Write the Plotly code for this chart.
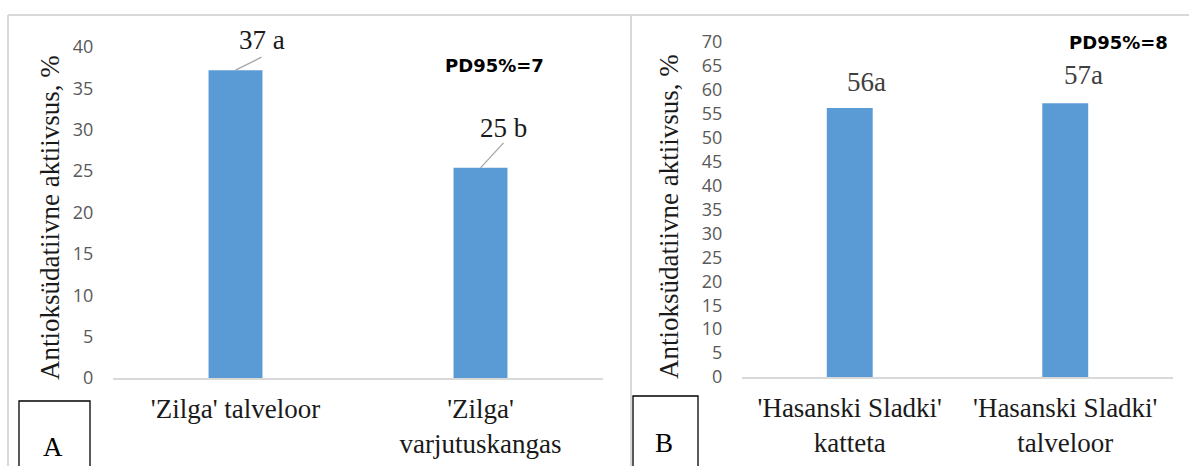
import plotly.graph_objects as go

# --- data -------------------------------------------------------------
cats_a = ["'Zilga' talveloor", "'Zilga'<br>varjutuskangas"]
vals_a = [37.2, 25.4]
labels_a = ["37 a", "25 b"]

cats_b = ["'Hasanski Sladki'<br>katteta", "'Hasanski Sladki'<br>talveloor"]
vals_b = [56.2, 57.2]
labels_b = ["56a", "57a"]

pd_a = "PD95%=7"
pd_b = "PD95%=8"
y_title = "Antioksüdatiivne aktiivsus, %"

# --- styling ----------------------------------------------------------
W, H = 1189, 466
BAR = "#5B9BD5"
SERIF = "Liberation Serif"
SANS = "Open Sans"
GRID = "#d9d9d9"


def px(x):
    return x / W


def py(y):
    return (H - y) / H


fig = go.Figure()
fig.add_trace(go.Bar(x=cats_a, y=vals_a, marker=dict(color=BAR, line=dict(width=0)),
                     width=0.22, xaxis="x", yaxis="y", showlegend=False, hoverinfo="skip"))
fig.add_trace(go.Bar(x=cats_b, y=vals_b, marker=dict(color=BAR, line=dict(width=0)),
                     width=0.213, xaxis="x2", yaxis="y2", showlegend=False, hoverinfo="skip"))

xcommon = dict(showline=True, linecolor=GRID, linewidth=1.5, showgrid=False, zeroline=False,
               ticks="outside", ticklen=6, tickcolor="rgba(0,0,0,0)", automargin=False,
               tickfont=dict(family=SERIF, size=27, color="#1a1a1a"), fixedrange=True)
ycommon = dict(showline=False, showgrid=False, zeroline=False, dtick=5, automargin=False,
               ticks="outside", ticklen=15, tickcolor="rgba(0,0,0,0)",
               tickfont=dict(family=SANS, size=18, color="#595959"), fixedrange=True)

fig.update_layout(
    width=W, height=H, margin=dict(l=0, r=0, t=0, b=0, autoexpand=False),
    paper_bgcolor="white", plot_bgcolor="white",
    xaxis=dict(domain=[px(113), px(603)], anchor="y", **xcommon),
    yaxis=dict(domain=[py(378), py(47)], range=[0, 40], anchor="x", **ycommon),
    xaxis2=dict(domain=[px(742), px(1173)], anchor="y2", **xcommon),
    yaxis2=dict(domain=[py(377), py(42)], range=[0, 70], anchor="x2", **ycommon),
)

annotations = []
shapes = []
centered = dict(xanchor="center", yanchor="middle", showarrow=False)

# value labels with short leader lines (panel A)
leader_a = [(26, 13, 30), (23, 25, 40)]
for c, v, t, (dx, dy, ty) in zip(cats_a, vals_a, labels_a, leader_a):
    shapes.append(dict(type="line", xref="x", yref="y", xsizemode="pixel", ysizemode="pixel",
                       xanchor=c, yanchor=v, x0=0, y0=0, x1=dx, y1=dy,
                       line=dict(color="#a6a6a6", width=1.3)))
    annotations.append(dict(x=c, y=v, xref="x", yref="y", text=t, xshift=dx, yshift=ty,
                            font=dict(family=SERIF, size=27, color="#1a1a1a"), **centered))

# value labels (panel B)
offs_b = [(17, 26), (18, 28)]
for c, v, t, (dx, ty) in zip(cats_b, vals_b, labels_b, offs_b):
    annotations.append(dict(x=c, y=v, xref="x2", yref="y2", text=t, xshift=dx, yshift=ty,
                            font=dict(family=SERIF, size=27, color="#404040"), **centered))

# LSD notes
annotations.append(dict(x=px(494), y=py(65), xref="paper", yref="paper", text="<b>%s</b>" % pd_a,
                        font=dict(family="DejaVu Sans", size=18, color="#000000"), **centered))
annotations.append(dict(x=px(1118), y=py(42), xref="paper", yref="paper", text="<b>%s</b>" % pd_b,
                        font=dict(family="DejaVu Sans", size=18, color="#000000"), **centered))

# rotated axis titles
for xx, yy in [(50, 218), (669, 217)]:
    annotations.append(dict(x=px(xx), y=py(yy), xref="paper", yref="paper", text=y_title,
                            textangle=-90, font=dict(family=SERIF, size=27, color="#1a1a1a"),
                            **centered))

# panel letters in boxes
for letter, x0, x1, y0, tx, ty in [("A", 19, 90, 401, 53, 447), ("B", 633, 698, 396, 664, 443)]:
    shapes.append(dict(type="rect", xref="paper", yref="paper", x0=px(x0), x1=px(x1),
                       y0=py(y0), y1=py(475), line=dict(color="#000000", width=1.3),
                       fillcolor="rgba(0,0,0,0)"))
    annotations.append(dict(x=px(tx), y=py(ty), xref="paper", yref="paper", text=letter,
                            font=dict(family=SERIF, size=27, color="#000000"), **centered))

# chart-area frames
frame = dict(color=GRID, width=2)
shapes.append(dict(type="line", xref="paper", yref="paper", x0=px(8), x1=1.0, y0=py(15), y1=py(15), line=frame))
shapes.append(dict(type="line", xref="paper", yref="paper", x0=px(8), x1=px(8), y0=py(15), y1=-0.05, line=frame))
shapes.append(dict(type="line", xref="paper", yref="paper", x0=px(631), x1=px(631), y0=py(15), y1=-0.05, line=frame))

fig.update_layout(annotations=annotations, shapes=shapes)
fig.write_html("out.html")
